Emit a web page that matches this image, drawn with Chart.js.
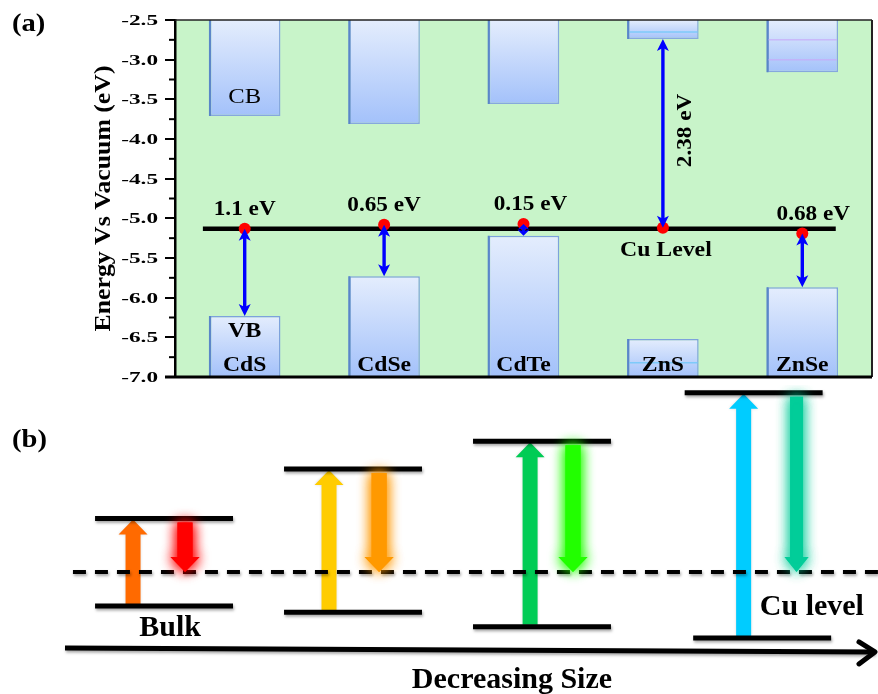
<!DOCTYPE html>
<html>
<head>
<meta charset="utf-8">
<script src="https://cdn.jsdelivr.net/npm/chart.js@4.4.1/dist/chart.umd.min.js"></script>
<style>
  html, body { margin: 0; padding: 0; background: #ffffff; }
  #wrap { position: relative; width: 878px; height: 694px; overflow: hidden; }
  #bandChart { position: absolute; left: 0; top: 0; }
  #sizeChart { position: absolute; left: 0; top: 385px; }
</style>
</head>
<body>
<div id="wrap">
  <canvas id="bandChart" width="878" height="392"></canvas>
  <canvas id="sizeChart" width="878" height="309"></canvas>
</div>
<script>
// ---------- (a) band edges of the host semiconductors ----------
const materials = ['CdS', 'CdSe', 'CdTe', 'ZnS', 'ZnSe'];
const cbEdge    = [-3.71, -3.81, -3.56, -2.74, -3.16];   // conduction band minimum (eV)
const vbEdge    = [-6.23, -5.73, -5.22, -6.52, -5.87];   // valence band maximum (eV)
const cbInner   = [[], [], [], [-2.65], [-2.75, -3.0]];  // faint sub-levels inside the CB blocks
const vbInner   = [[], [], [], [-6.82], []];             // faint sub-levels inside the VB blocks
const cuPoint   = [-5.13, -5.08, -5.07, -5.12, -5.19];   // Cu acceptor level in each host (eV)
const gapValue  = [1.1, 0.65, 0.15, 2.38, 0.68];         // Cu level to band edge (eV)
const gapBand   = ['VB', 'VB', 'VB', 'CB', 'VB'];
const cuLevel   = -5.13;
const energyMin = -7.0, energyMax = -2.5, energyStep = 0.5;

// ---------- (b) levels versus particle size (arbitrary energy units) ----------
const excitedLevel = [0.52, 1.0, 1.27, 1.74];
const groundLevel  = [-0.33, -0.39, -0.53, -0.64];
const cuLevelB     = 0;

// ---------- styling / layout ----------
const SERIF = '"Liberation Serif", "Times New Roman", serif';
const absorbColors = ['#ff6a00', '#ffcc00', '#00cc55', '#00ccff'];
const emitColors   = ['#ff0000', '#ff9900', '#22ff00', '#00cc99'];
const groupX       = [0, 1, 2, 3.12];
const bottomShift  = [0, 0, 0, 0.045];
const levelHalf    = 0.365;
const absorbOffset = [-0.164, -0.127, -0.063, -0.053];
const emitOffset   = [0.111, 0.138, 0.164, 0.227];

function barFill(c) {
  const chart = c.chart;
  if (!chart.chartArea || c.type !== 'data' || !Array.isArray(c.raw)) return '#c4d6fb';
  const ys = chart.scales.y;
  const top = ys.getPixelForValue(Math.max(c.raw[0], c.raw[1]));
  const bot = ys.getPixelForValue(Math.min(c.raw[0], c.raw[1]));
  const g = chart.ctx.createLinearGradient(0, top, 0, bot);
  g.addColorStop(0, '#e4edfd');
  g.addColorStop(1, '#a3c1fa');
  return g;
}

function blueArrow(ctx, x, yFrom, yTo) {
  const len = Math.abs(yTo - yFrom);
  const head = Math.min(12, len / 2);
  const hw = 6;
  const dir = yTo < yFrom ? -1 : 1;
  ctx.save();
  ctx.strokeStyle = ctx.fillStyle = '#0000ff';
  ctx.lineWidth = 3.4;
  ctx.beginPath();
  ctx.moveTo(x, yFrom + dir * head * 0.7);
  ctx.lineTo(x, yTo - dir * head * 0.7);
  ctx.stroke();
  [[yFrom, -dir], [yTo, dir]].forEach(([tip, d]) => {
    ctx.beginPath();
    ctx.moveTo(x, tip);
    ctx.lineTo(x - hw, tip - d * head);
    ctx.lineTo(x, tip - d * head * 0.75);
    ctx.lineTo(x + hw, tip - d * head);
    ctx.closePath();
    ctx.fill();
  });
  ctx.restore();
}

// text with an optional horizontal stretch (sx) along the writing direction
function text(ctx, str, x, y, size, bold, rot, sx, align) {
  ctx.save();
  ctx.translate(x, y);
  if (rot) ctx.rotate(rot);
  if (sx) ctx.scale(sx, 1);
  ctx.font = (bold ? 'bold ' : '') + size + 'px ' + SERIF;
  ctx.fillStyle = '#000';
  ctx.textAlign = align || 'center';
  ctx.textBaseline = 'middle';
  ctx.fillText(str, 0, 0);
  ctx.restore();
}

const bandPlugin = {
  id: 'bandPlugin',
  beforeDraw(chart) {
    const { ctx, chartArea: a } = chart;
    ctx.save();
    ctx.fillStyle = '#c8f4c9';
    ctx.fillRect(a.left, a.top, a.right - a.left, a.bottom - a.top);
    ctx.restore();
  },
  afterDatasetsDraw(chart) {
    const { ctx } = chart;
    const xs = chart.scales.x, ys = chart.scales.y;
    const half = chart.getDatasetMeta(2).data[0].width / 2;
    ctx.save();
    // darker left edge of every block
    ctx.strokeStyle = '#5a86c8';
    ctx.lineWidth = 2;
    materials.forEach((m, i) => {
      const x = xs.getPixelForValue(i) - half + 1;
      ctx.beginPath();
      ctx.moveTo(x, ys.getPixelForValue(energyMax));
      ctx.lineTo(x, ys.getPixelForValue(cbEdge[i]));
      ctx.moveTo(x, ys.getPixelForValue(vbEdge[i]));
      ctx.lineTo(x, ys.getPixelForValue(energyMin));
      ctx.stroke();
    });
    // faint sub-levels inside the blocks
    ctx.lineWidth = 1.5;
    materials.forEach((m, i) => {
      const x = xs.getPixelForValue(i);
      cbInner[i].forEach(v => {
        ctx.strokeStyle = i === 3 ? 'rgba(110,200,250,0.8)' : 'rgba(200,170,250,0.7)';
        const y = ys.getPixelForValue(v);
        ctx.beginPath(); ctx.moveTo(x - half + 2, y); ctx.lineTo(x + half - 1, y); ctx.stroke();
      });
      vbInner[i].forEach(v => {
        ctx.strokeStyle = 'rgba(110,200,250,0.8)';
        const y = ys.getPixelForValue(v);
        ctx.beginPath(); ctx.moveTo(x - half + 2, y); ctx.lineTo(x + half - 1, y); ctx.stroke();
      });
    });
    ctx.restore();
    materials.forEach((m, i) => {
      const x = xs.getPixelForValue(i);
      const from = cuPoint[i];
      const to = gapBand[i] === 'CB' ? from + gapValue[i] : from - gapValue[i];
      blueArrow(ctx, x, ys.getPixelForValue(from), ys.getPixelForValue(to));
    });
  },
  afterDraw(chart) {
    const { ctx, chartArea: a } = chart;
    const xs = chart.scales.x, ys = chart.scales.y;
    ctx.save();
    // frame
    ctx.strokeStyle = '#222';
    ctx.lineWidth = 1.5;
    ctx.beginPath(); ctx.moveTo(a.left, a.top); ctx.lineTo(a.right, a.top); ctx.stroke();
    ctx.lineWidth = 2;
    ctx.beginPath(); ctx.moveTo(a.right, a.top); ctx.lineTo(a.right, a.bottom); ctx.stroke();
    ctx.strokeStyle = '#000';
    ctx.lineWidth = 3;
    ctx.beginPath(); ctx.moveTo(a.left - 10, a.bottom); ctx.lineTo(a.right, a.bottom); ctx.stroke();
    // minor ticks
    ctx.lineWidth = 2;
    for (let v = energyMin + energyStep / 2; v < energyMax; v += energyStep) {
      const y = ys.getPixelForValue(v);
      ctx.beginPath(); ctx.moveTo(a.left - 6, y); ctx.lineTo(a.left, y); ctx.stroke();
    }
    ctx.restore();

    // tick labels (wide bold serif)
    ys.ticks.forEach(t => {
      text(ctx, t.value.toFixed(1), a.left - 17, ys.getPixelForValue(t.value) + 1, 15.5, true, 0, 1.5, 'right');
    });
    // axis title
    text(ctx, 'Energy Vs Vacuum (eV)', 104, (a.top + a.bottom) / 2, 23, true, -Math.PI / 2, 1.12);

    // band and material labels
    const x0 = xs.getPixelForValue(0);
    text(ctx, 'CB', x0, ys.getPixelForValue(-3.47), 22, false, 0, 1.12);
    text(ctx, 'VB', x0, ys.getPixelForValue(-6.42), 21.5, true, 0, 1.12);
    materials.forEach((m, i) => {
      text(ctx, m, xs.getPixelForValue(i), ys.getPixelForValue(-6.86), 21.5, true, 0, 1.1);
    });
    // gap labels
    const dx = [0, 0, 7, 0, 11];
    materials.forEach((m, i) => {
      const x = xs.getPixelForValue(i);
      const label = gapValue[i] + ' eV';
      if (gapBand[i] === 'CB') {
        const mid = ys.getPixelForValue(cuPoint[i] + gapValue[i] / 2);
        text(ctx, label, x + 23, mid - 3, 21.5, true, -Math.PI / 2, 1.08);
      } else {
        text(ctx, label, x + dx[i], ys.getPixelForValue(cuPoint[i]) - 19, 21.5, true, 0, 1.08);
      }
    });
    text(ctx, 'Cu Level', xs.getPixelForValue(3) + 3, ys.getPixelForValue(cuLevel) + 22, 22, true, 0, 1.08);
    text(ctx, '(a)', 12, 24, 26, true, 0, 1.1, 'left');
  }
};

new Chart(document.getElementById('bandChart'), {
  type: 'bar',
  data: {
    labels: materials,
    datasets: [
      {
        label: 'Cu dots', type: 'scatter', xAxisID: 'xl',
        data: cuPoint.map((y, i) => ({ x: i, y })),
        pointRadius: 6, pointBackgroundColor: '#ff0000', pointBorderWidth: 0, order: 0
      },
      {
        label: 'Cu level', type: 'line', xAxisID: 'xl',
        data: [{ x: -0.3, y: cuLevel }, { x: 4.24, y: cuLevel }],
        borderColor: '#000', borderWidth: 4.5, pointRadius: 0, order: 1
      },
      {
        label: 'CB', grouped: false,
        data: cbEdge.map(v => [v, energyMax]),
        backgroundColor: barFill, borderColor: '#86a8dd',
        borderWidth: { left: 2.5, right: 1.5, top: 0, bottom: 1.5 }, borderSkipped: false,
        barPercentage: 0.9, categoryPercentage: 0.57, order: 2
      },
      {
        label: 'VB', grouped: false,
        data: vbEdge.map(v => [energyMin, v]),
        backgroundColor: barFill, borderColor: '#7da2dc',
        borderWidth: { left: 2.5, right: 1.5, top: 1.5, bottom: 0 }, borderSkipped: false,
        barPercentage: 0.9, categoryPercentage: 0.57, order: 2
      }
    ]
  },
  options: {
    responsive: false,
    animation: false,
    layout: { padding: { top: 20, right: 2, bottom: 14, left: 0 } },
    plugins: { legend: { display: false }, tooltip: { enabled: false } },
    scales: {
      x: { type: 'category', display: false, offset: true },
      xl: { type: 'linear', display: false, min: -0.5, max: 4.5, offset: false, grid: { offset: false } },
      y: {
        min: energyMin, max: energyMax,
        ticks: {
          stepSize: energyStep, padding: 6, color: 'rgba(0,0,0,0)',
          font: { family: SERIF, weight: 'bold', size: 15 },
          callback: v => v.toFixed(1)
        },
        grid: { drawOnChartArea: false, drawTicks: true, tickLength: 10, color: '#000', lineWidth: 2 },
        border: { display: true, color: '#000', width: 2.5 },
        title: { display: false },
        afterFit(scale) { scale.width = 175; }
      }
    }
  },
  plugins: [bandPlugin]
});

// ---------- (b) ----------
function fatArrow(ctx, x, yTail, yTip, color, shaft, headW, headL) {
  const d = yTip < yTail ? -1 : 1;
  const yBase = yTip - d * headL;
  ctx.fillStyle = color;
  ctx.beginPath();
  ctx.moveTo(x - shaft / 2, yTail);
  ctx.lineTo(x - shaft / 2, yBase);
  ctx.lineTo(x - headW / 2, yBase);
  ctx.lineTo(x, yTip);
  ctx.lineTo(x + headW / 2, yBase);
  ctx.lineTo(x + shaft / 2, yBase);
  ctx.lineTo(x + shaft / 2, yTail);
  ctx.closePath();
  ctx.fill();
}

const levelSets = [];
excitedLevel.forEach((top, i) => {
  const c = groupX[i];
  levelSets.push({ data: [{ x: c - levelHalf, y: top }, { x: c + levelHalf, y: top }] });
  const b = c + bottomShift[i];
  levelSets.push({ data: [{ x: b - levelHalf, y: groundLevel[i] }, { x: b + levelHalf, y: groundLevel[i] }] });
});
levelSets.forEach(s => Object.assign(s, { borderColor: '#000', borderWidth: 5, pointRadius: 0 }));

const sizePlugin = {
  id: 'sizePlugin',
  beforeDatasetsDraw(chart) {
    const { ctx } = chart;
    const xs = chart.scales.x, ys = chart.scales.y;
    ctx.save();
    excitedLevel.forEach((top, i) => {
      const x = xs.getPixelForValue(groupX[i] + absorbOffset[i]);
      ctx.shadowColor = 'rgba(0,0,0,0.15)';
      ctx.shadowBlur = 3;
      fatArrow(ctx, x, ys.getPixelForValue(groundLevel[i]) - 2, ys.getPixelForValue(top) + 1,
        absorbColors[i], 15, 29, 15);
    });
    ctx.restore();
    ctx.save();
    ctx.shadowColor = 'rgba(0,0,0,0.35)';
    ctx.shadowBlur = 3;
    ctx.shadowOffsetX = 1;
    ctx.shadowOffsetY = 2;
  },
  afterDatasetsDraw(chart) {
    const { ctx } = chart;
    ctx.restore();
    const xs = chart.scales.x, ys = chart.scales.y;
    excitedLevel.forEach((top, i) => {
      const x = xs.getPixelForValue(groupX[i] + emitOffset[i]);
      ctx.save();
      ctx.shadowColor = emitColors[i];
      ctx.shadowBlur = 14;
      ctx.globalAlpha = i === 3 ? 0.85 : 1;
      for (let k = 0; k < 2; k++) {
        fatArrow(ctx, x, ys.getPixelForValue(top) + 4, ys.getPixelForValue(cuLevelB),
          emitColors[i], i === 3 ? 13 : 15, i === 3 ? 24 : 29, 15);
      }
      ctx.restore();
    });
    // arrow head on the size axis
    const meta = chart.getDatasetMeta(chart.data.datasets.length - 1);
    const end = meta.data[1];
    ctx.save();
    ctx.strokeStyle = '#000';
    ctx.lineWidth = 5;
    ctx.lineCap = 'round';
    ctx.lineJoin = 'round';
    ctx.beginPath();
    ctx.moveTo(end.x - 16, end.y - 10);
    ctx.lineTo(end.x, end.y);
    ctx.lineTo(end.x - 16, end.y + 12);
    ctx.stroke();
    ctx.restore();

    text(ctx, 'Bulk', xs.getPixelForValue(0.032), ys.getPixelForValue(-0.543), 30, true);
    text(ctx, 'Cu level', xs.getPixelForValue(3.428), ys.getPixelForValue(-0.34), 30, true);
    text(ctx, 'Decreasing Size', xs.getPixelForValue(1.841), ys.getPixelForValue(-1.048), 30, true);
    text(ctx, '(b)', 12, 55, 26, true, 0, 1.1, 'left');
  }
};

new Chart(document.getElementById('sizeChart'), {
  type: 'line',
  data: {
    datasets: [
      ...levelSets,
      {
        data: [{ x: -0.482, y: cuLevelB }, { x: 3.78, y: cuLevelB }],
        borderColor: '#000', borderWidth: 4, borderDash: [13, 9], pointRadius: 0
      },
      {
        data: [{ x: -0.524, y: -0.737 }, { x: 3.762, y: -0.776 }],
        borderColor: '#000', borderWidth: 5, pointRadius: 0
      }
    ]
  },
  options: {
    responsive: false,
    animation: false,
    layout: { padding: 0 },
    plugins: { legend: { display: false }, tooltip: { enabled: false } },
    scales: {
      x: { type: 'linear', display: false, min: -0.868, max: 3.778 },
      y: { type: 'linear', display: false, min: -1.184, max: 1.816 }
    }
  },
  plugins: [sizePlugin]
});
</script>
</body>
</html>
